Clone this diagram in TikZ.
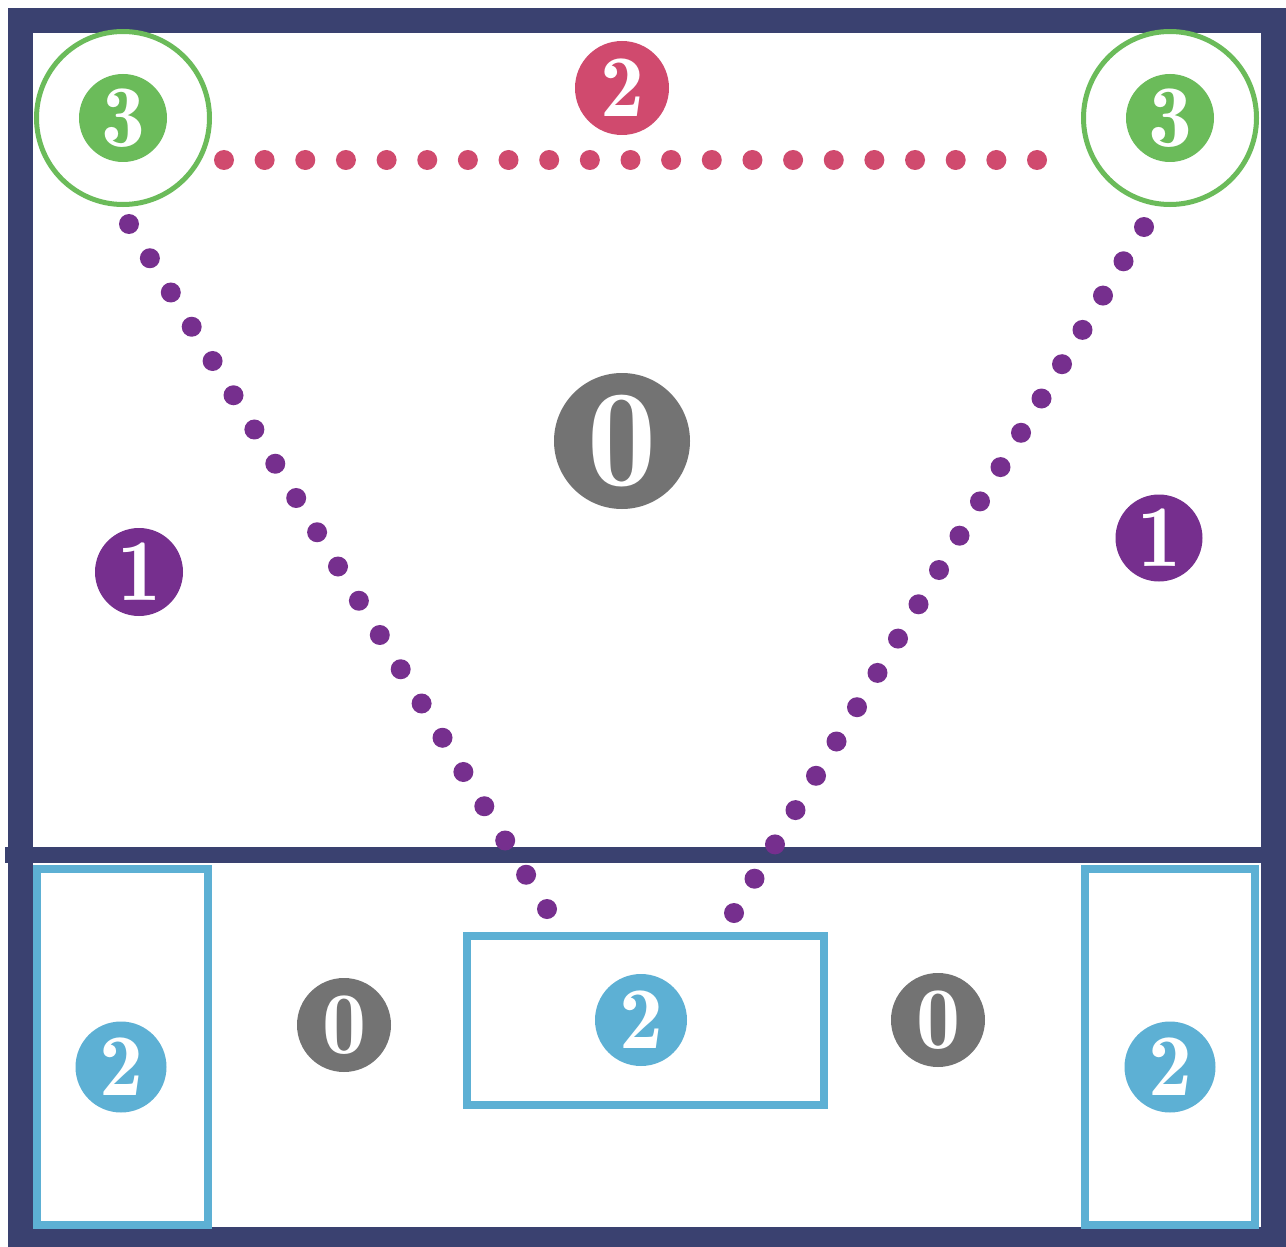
\documentclass[tikz,border=0pt]{standalone}
\usetikzlibrary{calc}
\definecolor{navy}{HTML}{3A4170}
\definecolor{leaf}{HTML}{6BBB5A}
\definecolor{rose}{HTML}{D04A6E}
\definecolor{plum}{HTML}{762F8E}
\definecolor{slate}{HTML}{737373}
\definecolor{sky}{HTML}{5DB0D4}
\tikzset{
  badge/.style={circle, fill=#1, text=white, inner sep=0pt,
    font=\fontsize{44}{44}\fontseries{b}\selectfont},
  bigbadge/.style={circle, fill=#1, text=white, inner sep=0pt, minimum size=68pt,
    font=\fontsize{69}{69}\fontseries{b}\selectfont},
  ring/.style={circle, draw=leaf, line width=2.5pt, inner sep=0pt, minimum size=86.5pt},
  zone/.style={draw=sky, line width=4pt},
}
\newcommand\dotrow[3]{%
  \foreach \k in {0,...,20}{%
    \fill[#3] ($(#1)!{\k/20}!(#2)$) circle[radius=10];}}
\begin{document}
\begin{tikzpicture}[x=0.5pt,y=-0.5pt]
\useasboundingbox (0,0) rectangle (1286,1247);
\clip (0,0) rectangle (1286,1247);
\fill[white] (0,0) rectangle (1286,1247);

% outer frame and divider
\draw[navy, line width=12.5pt] (20.5,20.5) rectangle (1273.5,1239.5);
\draw[navy, line width=8pt] (5,855) -- (1286,855);

% lower zones
\draw[zone] (37,869) rectangle (208,1225);
\draw[zone] (1085,869) rectangle (1255,1225);
\draw[zone] (467,936) rectangle (824,1105);

% corner rings
\node[ring] (ringL) at (123,118) {};
\node[ring] (ringR) at (1170,118) {};

% badges
\node[badge=leaf, minimum size=44pt] (g3L) at (123,118) {3};
\node[badge=leaf, minimum size=44pt] (g3R) at (1170,118) {3};
\node[badge=rose, minimum size=47pt] (r2) at (622,88) {2};
\node[bigbadge=slate] (c0) at (622,441) {0};
\node[badge=plum, minimum size=44pt] (p1L) at (139,572) {1};
\node[badge=plum, minimum size=43.5pt] (p1R) at (1159,538) {1};
\node[badge=slate, minimum size=47pt] (s0L) at (344,1025) {0};
\node[badge=slate, minimum size=47pt] (s0R) at (938,1020) {0};
\node[badge=sky, minimum size=45.5pt] (b2L) at (121,1067) {2};
\node[badge=sky, minimum size=46pt] (b2C) at (641,1020) {2};
\node[badge=sky, minimum size=45.5pt] (b2R) at (1170,1067) {2};

% dotted connectors
\coordinate (topA) at (224,160);
\coordinate (topB) at (1037,160);
\coordinate (leftA) at (129,224);
\coordinate (leftB) at (547,909);
\coordinate (rightA) at (1144,227);
\coordinate (rightB) at (734,913);
\dotrow{topA}{topB}{rose}
\dotrow{leftA}{leftB}{plum}
\dotrow{rightA}{rightB}{plum}
\end{tikzpicture}
\end{document}
